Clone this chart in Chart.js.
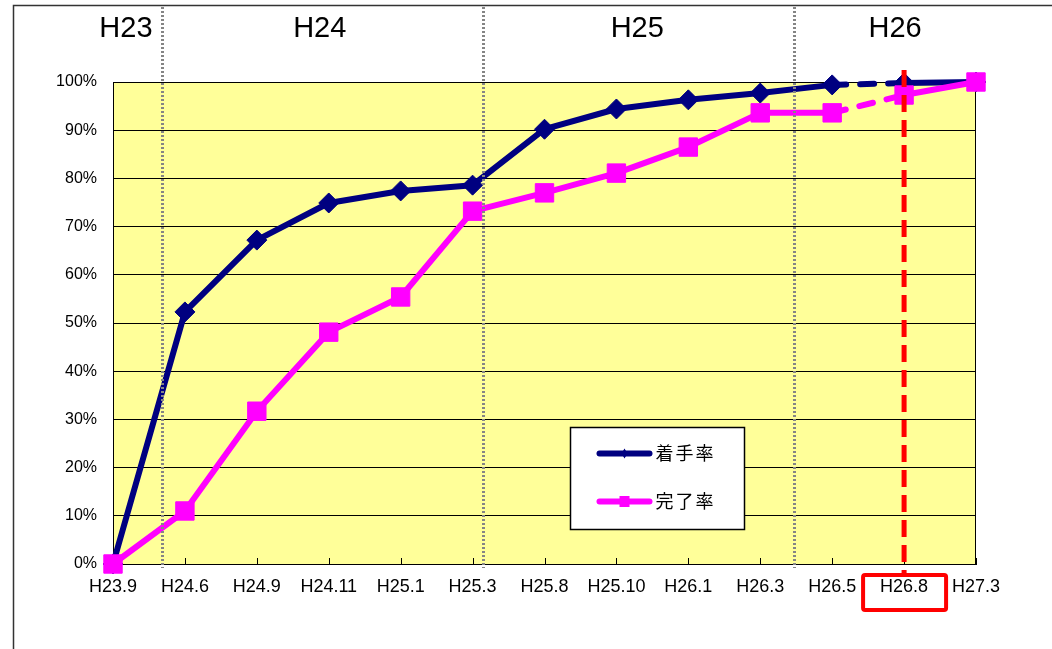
<!DOCTYPE html>
<html lang="ja">
<head>
<meta charset="utf-8">
<title>着手率・完了率</title>
<script src="https://cdn.jsdelivr.net/npm/chart.js@4.4.1/dist/chart.umd.min.js"></script>
<style>
  html, body { margin: 0; padding: 0; background: #fff; }
  canvas { display: block; }
</style>
</head>
<body>
<canvas id="rateChart" width="1052" height="649"></canvas>
<script>
// 月別の累計率（%）
const categories = ['H23.9', 'H24.6', 'H24.9', 'H24.11', 'H25.1', 'H25.3', 'H25.8', 'H25.10', 'H26.1', 'H26.3', 'H26.5', 'H26.8', 'H27.3'];
const startRate = [0, 52.3, 67.2, 74.9, 77.4, 78.6, 90.2, 94.4, 96.3, 97.7, 99.4, 99.8, 100];
const doneRate = [0, 11.0, 31.7, 48.1, 55.4, 73.2, 77.0, 81.1, 86.5, 93.6, 93.6, 97.3, 100];
const yearLabels = ['H23', 'H24', 'H25', 'H26'];
const planLabel = 'H26.8';
const forecastFrom = 'H26.5'; // この月以降は見込み（破線）

// 年度見出しと区切り線の位置（カテゴリ単位）
const yearLabelAt = [0.18, 2.875, 7.29, 10.875];
const yearBreakAt = [0.68, 5.14, 9.47];

const latin = "'Liberation Sans', Arial, sans-serif";
const jp = "'Noto Sans CJK JP', sans-serif";
const forecastIdx = categories.indexOf(forecastFrom);

const dashForecast = ctx => ctx.p0DataIndex === forecastIdx ? [14, 14] : undefined;

const decorations = {
  id: 'decorations',
  beforeDraw(chart) {
    const { ctx, chartArea: a } = chart;
    ctx.save();
    ctx.fillStyle = '#fff';
    ctx.fillRect(0, 0, chart.width, chart.height);
    // 外枠
    ctx.strokeStyle = '#333';
    ctx.lineWidth = 1.5;
    ctx.beginPath();
    ctx.moveTo(13.5, chart.height);
    ctx.lineTo(13.5, 5.5);
    ctx.lineTo(chart.width, 5.5);
    ctx.stroke();
    // プロットエリア背景
    ctx.fillStyle = '#ffff99';
    ctx.fillRect(a.left, a.top, a.right - a.left, a.bottom - a.top);
    ctx.restore();
  },
  beforeDatasetsDraw(chart) {
    const { ctx, chartArea: a, scales: { x } } = chart;
    ctx.save();
    ctx.strokeStyle = '#000';
    ctx.lineWidth = 1;
    ctx.strokeRect(a.left + 0.5, a.top + 0.5, a.right - a.left - 1, a.bottom - a.top);
    // 内向きの目盛り
    ctx.beginPath();
    x.ticks.forEach((t, i) => {
      const px = Math.round(x.getPixelForTick(i)) + 0.5;
      ctx.moveTo(px, a.bottom);
      ctx.lineTo(px, a.bottom - 6);
    });
    ctx.stroke();
    ctx.restore();
  },
  afterDatasetsDraw(chart) {
    const { ctx, chartArea: a, scales: { x } } = chart;
    ctx.save();
    // 年度の区切り（点線）
    ctx.strokeStyle = '#858585';
    ctx.lineWidth = 3;
    ctx.setLineDash([2, 2]);
    yearBreakAt.forEach(v => {
      const px = Math.round(x.getPixelForValue(v)) + 0.5;
      ctx.beginPath();
      ctx.moveTo(px, 7);
      ctx.lineTo(px, a.bottom + 4);
      ctx.stroke();
    });
    // 予定時期（赤破線）
    const planX = x.getPixelForValue(categories.indexOf(planLabel));
    ctx.strokeStyle = '#ff0000';
    ctx.lineWidth = 5;
    ctx.setLineDash([17, 8]);
    ctx.beginPath();
    ctx.moveTo(planX, a.top - 12);
    ctx.lineTo(planX, a.bottom + 9);
    ctx.stroke();
    ctx.restore();
  },
  afterDraw(chart) {
    const { ctx, chartArea: a, scales: { x } } = chart;
    ctx.save();
    // 年度見出し
    ctx.fillStyle = '#000';
    ctx.font = `29px ${latin}`;
    ctx.textAlign = 'center';
    ctx.textBaseline = 'middle';
    yearLabels.forEach((t, i) => ctx.fillText(t, x.getPixelForValue(yearLabelAt[i]), 29));

    // 予定時期ラベルの赤枠
    const planX = x.getPixelForValue(categories.indexOf(planLabel));
    ctx.strokeStyle = '#ff0000';
    ctx.lineWidth = 4;
    ctx.beginPath();
    ctx.roundRect(planX - 41, a.bottom + 11, 83, 35, 2);
    ctx.stroke();

    // 凡例
    const w = a.right - a.left, h = a.bottom - a.top;
    const bx = Math.round(a.left + w * 0.53) + 0.5;
    const by = Math.round(a.top + h * 0.716) + 0.5;
    ctx.fillStyle = '#fff';
    ctx.fillRect(bx, by, 174, 102);
    ctx.strokeStyle = '#000';
    ctx.lineWidth = 1.5;
    ctx.strokeRect(bx, by, 174, 102);
    chart.data.datasets.forEach((ds, i) => {
      const ly = by + 26 + i * 48;
      ctx.strokeStyle = ds.borderColor;
      ctx.lineWidth = 6;
      ctx.lineCap = 'round';
      ctx.beginPath();
      ctx.moveTo(bx + 29, ly);
      ctx.lineTo(bx + 79, ly);
      ctx.stroke();
      ctx.fillStyle = ds.borderColor;
      if (ds.pointStyle === 'rectRot') {
        ctx.beginPath();
        ctx.moveTo(bx + 54, ly - 5);
        ctx.lineTo(bx + 57, ly);
        ctx.lineTo(bx + 54, ly + 5);
        ctx.lineTo(bx + 51, ly);
        ctx.closePath();
        ctx.fill();
      } else {
        ctx.fillRect(bx + 49, ly - 5.5, 10, 11);
      }
      ctx.fillStyle = '#000';
      ctx.font = `18px ${jp}`;
      ctx.letterSpacing = '2px';
      ctx.textAlign = 'left';
      ctx.textBaseline = 'middle';
      ctx.fillText(ds.label, bx + 85, ly);
      ctx.letterSpacing = '0px';
    });
    ctx.restore();
  }
};

new Chart(document.getElementById('rateChart'), {
  type: 'line',
  data: {
    labels: categories,
    datasets: [
      {
        label: '着手率',
        data: startRate,
        order: 1,
        borderColor: '#000080',
        backgroundColor: '#000080',
        borderWidth: 6,
        pointStyle: 'rectRot',
        pointRadius: 10,
        pointBorderWidth: 1,
        segment: { borderDash: dashForecast }
      },
      {
        label: '完了率',
        data: doneRate,
        order: 0,
        borderColor: '#ff00ff',
        backgroundColor: '#ff00ff',
        borderWidth: 6,
        pointStyle: 'rect',
        pointRadius: 13,
        pointBorderWidth: 1,
        segment: { borderDash: dashForecast }
      }
    ]
  },
  options: {
    responsive: false,
    animation: false,
    clip: false,
    layout: { padding: { top: 82, right: 76, left: 0, bottom: 0 } },
    elements: {
      line: { tension: 0, borderCapStyle: 'round', borderJoinStyle: 'round' }
    },
    plugins: {
      legend: { display: false },
      tooltip: { enabled: false }
    },
    scales: {
      x: {
        offset: false,
        grid: { display: false, drawTicks: false },
        border: { display: true, color: '#000', width: 1 },
        ticks: { color: '#000', font: { family: latin, size: 18 }, padding: 12, maxRotation: 0, autoSkip: false },
        afterFit: s => { s.height = 85; }
      },
      y: {
        min: 0,
        max: 100,
        grid: { color: '#000', lineWidth: 1, drawTicks: false },
        border: { display: true, color: '#000', width: 1 },
        ticks: { stepSize: 10, color: '#000', font: { family: latin, size: 16 }, padding: 16, callback: v => v + '%' },
        afterFit: s => { s.width = 113; }
      }
    }
  },
  plugins: [decorations]
});
</script>
</body>
</html>
